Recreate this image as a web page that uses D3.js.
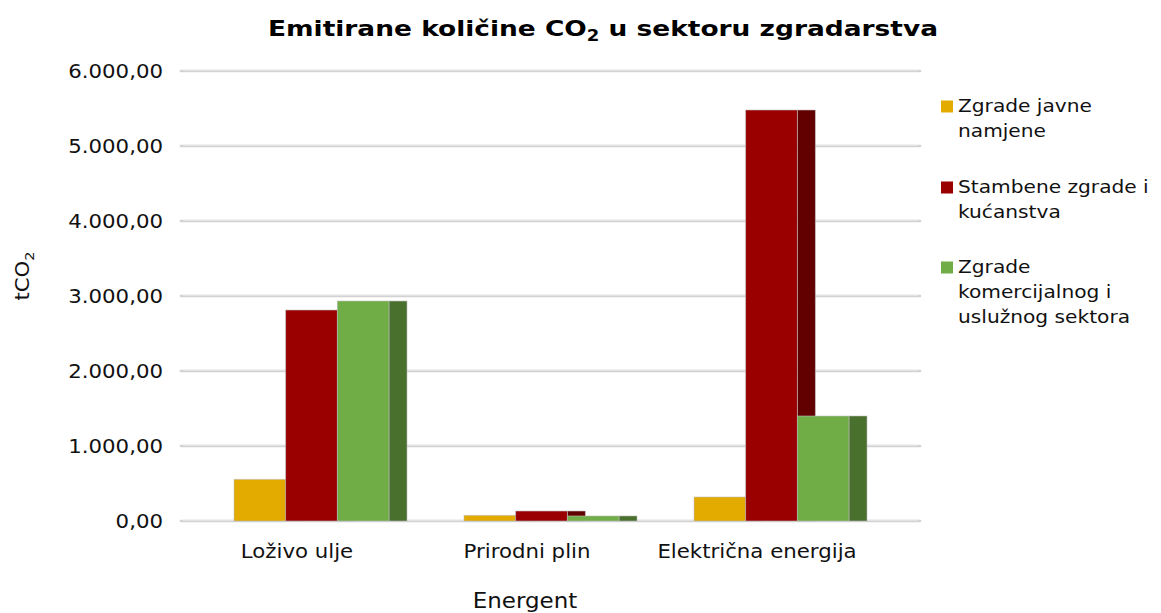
<!DOCTYPE html>
<html>
<head>
<meta charset="utf-8">
<script src="https://cdn.jsdelivr.net/npm/d3@7"></script>
<style>
  html, body { margin: 0; padding: 0; background: #fff; }
  svg { display: block; font-family: "DejaVu Sans", Verdana, sans-serif; }
</style>
</head>
<body>
<svg id="chart" width="1161" height="613"></svg>
<script>
// ---- data ----
const categories = ["Loživo ulje", "Prirodni plin", "Električna energija"];
const seriesNames = ["Zgrade javne namjene", "Stambene zgrade i kućanstva", "Zgrade komercijalnog i uslužnog sektora"];
const javneValues = [556, 76, 320];
const stambeneValues = [2813, 133, 5480];
const komercijalneValues = [2933, 67, 1400];
const yTicks = [0, 1000, 2000, 3000, 4000, 5000, 6000];
const legendLines = [["Zgrade javne", "namjene"], ["Stambene zgrade i", "kućanstva"], ["Zgrade", "komercijalnog i", "uslužnog sektora"]];

const seriesValues = [javneValues, stambeneValues, komercijalneValues];
const frontColors = ["#E3AB00", "#9B0000", "#70AD47"];
const sideColors = ["#A67D00", "#620000", "#4A702D"];

const svg = d3.select("#chart");
const STRETCH = 1.12;
function stretch(sel, factor) {
  sel.each(function () {
    const len = this.getComputedTextLength();
    d3.select(this).attr("textLength", len * factor).attr("lengthAdjust", "spacingAndGlyphs");
  });
}

// ---- scales ----
const plotLeft = 181, plotRight = 920;
const y = d3.scaleLinear().domain([0, 6000]).range([521, 71]);
const xCat = d3.scaleBand().domain(categories).range([182, 872]);
const depth = 18;       // 3D side face width
const shift = 14.5;     // perspective shift of bars vs labels
const groupWidth = 155;
const xSeries = d3.scaleBand().domain(d3.range(seriesNames.length)).range([-groupWidth / 2, groupWidth / 2]);

// ---- gridlines ----
const grid = svg.append("g");
grid.selectAll("line.g").data(yTicks).join("line")
  .attr("x1", plotLeft).attr("x2", plotRight)
  .attr("y1", d => y(d)).attr("y2", d => y(d))
  .attr("stroke", "#D2D2D2").attr("stroke-width", 2.6).attr("stroke-linecap", "round");
grid.selectAll("line.h").data(yTicks).join("line")
  .attr("x1", plotLeft + 2).attr("x2", plotRight - 2)
  .attr("y1", d => y(d) - 0.7).attr("y2", d => y(d) - 0.7)
  .attr("stroke", "#EBEBEB").attr("stroke-width", 0.8);

// ---- y tick labels ----
const fmt = v => d3.format(",.2f")(v).replace(/,/g, "#").replace(".", ",").replace(/#/g, ".");
svg.append("g").selectAll("text").data(yTicks).join("text")
  .attr("x", 163).attr("y", d => y(d)).attr("dy", "0.36em")
  .attr("text-anchor", "end").attr("font-size", 19).attr("fill", "#111")
  .text(d => fmt(d))
  .call(stretch, STRETCH);

// ---- bars ----
const bars = svg.append("g");
categories.forEach((cat, ci) => {
  const cx = xCat(cat) + xCat.bandwidth() / 2 + shift;
  seriesValues.forEach((vals, si) => {
    const x0 = cx + xSeries(si);
    const w = xSeries.bandwidth();
    const top = y(vals[ci]);
    const h = y(0) - top;
    bars.append("rect")
      .attr("x", x0 + w).attr("y", top).attr("width", depth).attr("height", h)
      .attr("fill", sideColors[si]).attr("stroke", "rgba(190,190,190,0.7)").attr("stroke-width", 0.8);
    bars.append("rect")
      .attr("x", x0).attr("y", top).attr("width", w).attr("height", h)
      .attr("fill", frontColors[si]).attr("stroke", "rgba(190,190,190,0.7)").attr("stroke-width", 0.8);
  });
});

// ---- category labels ----
svg.append("g").selectAll("text").data(categories).join("text")
  .attr("x", d => xCat(d) + xCat.bandwidth() / 2).attr("y", 551).attr("dy", "0.36em")
  .attr("text-anchor", "middle").attr("font-size", 19).attr("fill", "#111")
  .text(d => d)
  .call(stretch, STRETCH);

// ---- axis titles ----
svg.append("text").attr("x", 525).attr("y", 601).attr("dy", "0.36em")
  .attr("text-anchor", "middle").attr("font-size", 20.5).attr("fill", "#111")
  .text("Energent").call(stretch, STRETCH);

const yt = svg.append("text")
  .attr("transform", "translate(29,276) rotate(-90)")
  .attr("text-anchor", "middle").attr("font-size", 19).attr("fill", "#111");
yt.append("tspan").text("tCO");
yt.append("tspan").attr("font-size", 13).attr("dy", 5).text("2");
yt.call(stretch, STRETCH);

// ---- title ----
const title = svg.append("text").attr("x", 603).attr("y", 36)
  .attr("text-anchor", "middle").attr("font-size", 22).attr("font-weight", "bold").attr("fill", "#000");
title.append("tspan").text("Emitirane količine CO");
title.append("tspan").attr("font-size", 15).attr("dy", 5).text("2");
title.append("tspan").attr("dy", -5).text(" u sektoru zgradarstva");
title.attr("textLength", 670).attr("lengthAdjust", "spacingAndGlyphs");

// ---- legend ----
const legendTop = [106, 187, 267];
const lg = svg.append("g");
seriesNames.forEach((name, i) => {
  lg.append("rect").attr("x", 941).attr("y", legendTop[i] - 5.5).attr("width", 12).attr("height", 12)
    .attr("fill", frontColors[i]);
  legendLines[i].forEach((line, li) => {
    lg.append("text").attr("x", 958).attr("y", legendTop[i] + li * 25).attr("dy", "0.36em")
      .attr("font-size", 18).attr("fill", "#111").text(line)
      .call(stretch, STRETCH);
  });
});
</script>
</body>
</html>
